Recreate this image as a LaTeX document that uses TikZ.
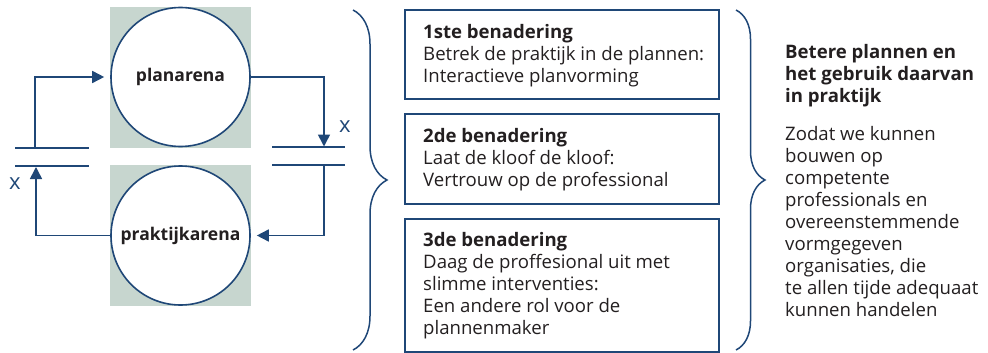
\documentclass[tikz,border=0pt]{standalone}
\usepackage{fontspec}
\setmainfont{Open Sans}
\usetikzlibrary{arrows.meta,decorations.pathreplacing}
\definecolor{lc}{HTML}{1F4777}
\definecolor{gf}{HTML}{C7D6CF}
\definecolor{tc}{HTML}{231F20}
\begin{document}
\begin{tikzpicture}[x=1pt,y=-1pt,
  graysq/.style={fill=gf, draw=none, minimum size=141pt, inner sep=0pt},
  arena/.style={circle, draw=lc, line width=1.6pt, fill=white, minimum size=139pt, inner sep=0pt,
    font=\bfseries\fontsize{17.5}{20}\selectfont, text=tc},
  wire/.style={draw=lc, line width=1.6pt},
  arr/.style={wire, -{Triangle[length=12pt,width=12pt]}},
  card/.style={draw=lc, line width=1.8pt, minimum width=314pt, inner sep=0pt, anchor=north west},
  txt/.style={font=\fontsize{18.6}{22}\selectfont, text=tc, align=left, inner sep=0pt,
    anchor=north west, execute at begin node=\strut},
  xlab/.style={font=\fontsize{22}{22}\selectfont, text=lc, inner sep=0pt},
  curly/.style={draw=lc, line width=1.5pt, decorate}
]
\useasboundingbox (0,0) rectangle (988,353);

% left diagram
\node[graysq] (sq1) at (180.5,77.2) {};
\node[graysq] (sq2) at (180.5,235.4) {};
\node[arena] (pa) at (180.5,77) {planarena};
\node[arena] (pk) at (180.5,235.5) {praktijkarena};

\coordinate (lt1) at (15,148);
\coordinate (lt2) at (89,148);
\coordinate (lb1) at (15,166);
\coordinate (lb2) at (89,166);
\coordinate (rt1) at (272,147);
\coordinate (rt2) at (345,147);
\coordinate (rb1) at (272,165);
\coordinate (rb2) at (345,165);
\draw[wire] (lt1) -- (lt2);
\draw[wire] (lb1) -- (lb2);
\draw[wire] (rt1) -- (rt2);
\draw[wire] (rb1) -- (rb2);

\coordinate (lA) at (35,148);
\coordinate (lB) at (36,167);
\coordinate (rA) at (324,146.5);
\coordinate (rB) at (324,165);

\draw[arr, shorten >=6pt] (lA) |- (pa.west);
\draw[arr] (pk.west) -| (lB);
\draw[arr] (pa.east) -| (rA);
\draw[arr, shorten >=6pt] (rB) |- (pk.east);

\node[xlab] (x1) at (15,184) {x};
\node[xlab] (x2) at (345,127) {x};

% braces
\draw[curly, decoration={brace, amplitude=34pt}] (353,10) -- (353,350);
\draw[curly, decoration={brace, amplitude=29pt}] (736,10) -- (736,350);

% boxes
\node[card, minimum height=89pt] (b1) at (404,9) {};
\node[card, minimum height=90pt] (b2) at (404,113) {};
\node[card, minimum height=133pt] (b3) at (404,218) {};

\node[txt] (t1) at (423,24.1) {\textbf{1ste benadering}\\Betrek de praktijk in de plannen:\\Interactieve planvorming};
\node[txt] (t2) at (423,128) {\textbf{2de benadering}\\Laat de kloof de kloof:\\Vertrouw op de professional};
\node[txt] (t3) at (423,232) {\textbf{3de benadering}\\Daag de proffesional uit met\\slimme interventies:\\Een andere rol voor de\\plannenmaker};

% right text
\node[txt] (r1) at (785,44.6) {\textbf{Betere plannen en}\\\textbf{het gebruik daarvan}\\\textbf{in praktijk}};
\node[txt] (r2) at (785,126.3) {Zodat we kunnen\\bouwen op\\competente\\professionals en\\overeenstemmende\\vormgegeven\\organisaties, die\\te allen tijde adequaat\\kunnen handelen};
\end{tikzpicture}
\end{document}
